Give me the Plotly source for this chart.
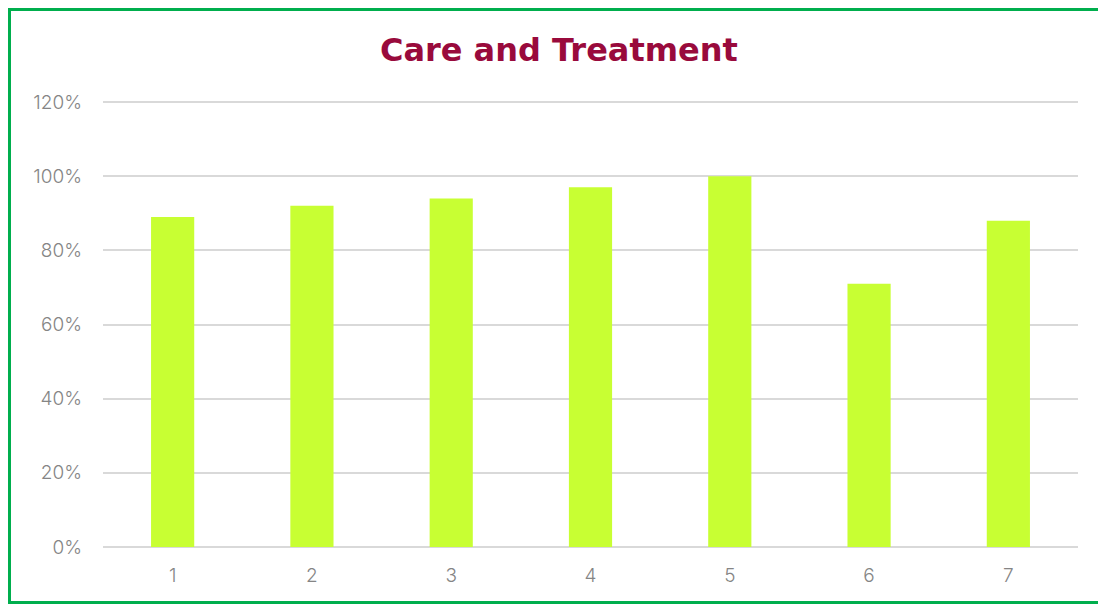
import plotly.graph_objects as go

categories = ["1", "2", "3", "4", "5", "6", "7"]
values = [0.89, 0.92, 0.94, 0.97, 1.00, 0.71, 0.88]
tick_vals = [0, 0.2, 0.4, 0.6, 0.8, 1.0, 1.2]
tick_text = ["0%", "20%", "40%", "60%", "80%", "100%", "120%"]

W, H = 1098, 604
L, R, T, B = 103, 20, 98, 57
pw, ph = W - L - R, H - T - B
y_max = 1.2108  # a little headroom so the 120% gridline is drawn


def px_to_paper_x(px):
    return (px - L) / pw


def px_to_paper_y(py):
    return (H - B - py) / ph


fig = go.Figure(
    go.Bar(
        x=categories,
        y=values,
        marker=dict(color="#C8FF33", line=dict(width=0)),
        width=0.31,
        hoverinfo="x+y",
    )
)

tick_font = dict(family="Inter, DejaVu Sans, sans-serif", size=19, color="#858585", weight=300)

fig.update_layout(
    width=W,
    height=H,
    margin=dict(l=L, r=R, t=T, b=B),
    paper_bgcolor="white",
    plot_bgcolor="white",
    showlegend=False,
    title=dict(
        text="Care and Treatment",
        x=0.509,
        xanchor="center",
        y=1 - 50 / H,
        yanchor="middle",
        font=dict(family="DejaVu Sans, sans-serif", size=32, color="#990A3C", weight=700),
    ),
    xaxis=dict(
        showgrid=False,
        showline=False,
        zeroline=False,
        ticks="",
        tickfont=tick_font,
        ticklabelstandoff=15,
    ),
    yaxis=dict(
        range=[0, y_max],
        tickvals=tick_vals,
        ticktext=tick_text,
        showgrid=True,
        gridcolor="#d9d9d9",
        gridwidth=2,
        zeroline=True,
        zerolinecolor="#d9d9d9",
        zerolinewidth=2,
        showline=False,
        ticks="",
        tickfont=tick_font,
        ticklabelstandoff=20,
    ),
    bargap=0.69,
)

# green frame around the whole chart
fig.add_shape(
    type="rect",
    xref="paper",
    yref="paper",
    x0=px_to_paper_x(9.5),
    x1=px_to_paper_x(1100),
    y0=px_to_paper_y(602.5),
    y1=px_to_paper_y(9.5),
    line=dict(color="#00AE4D", width=3),
    fillcolor="rgba(0,0,0,0)",
    layer="below",
)

fig.write_html("out.html")
